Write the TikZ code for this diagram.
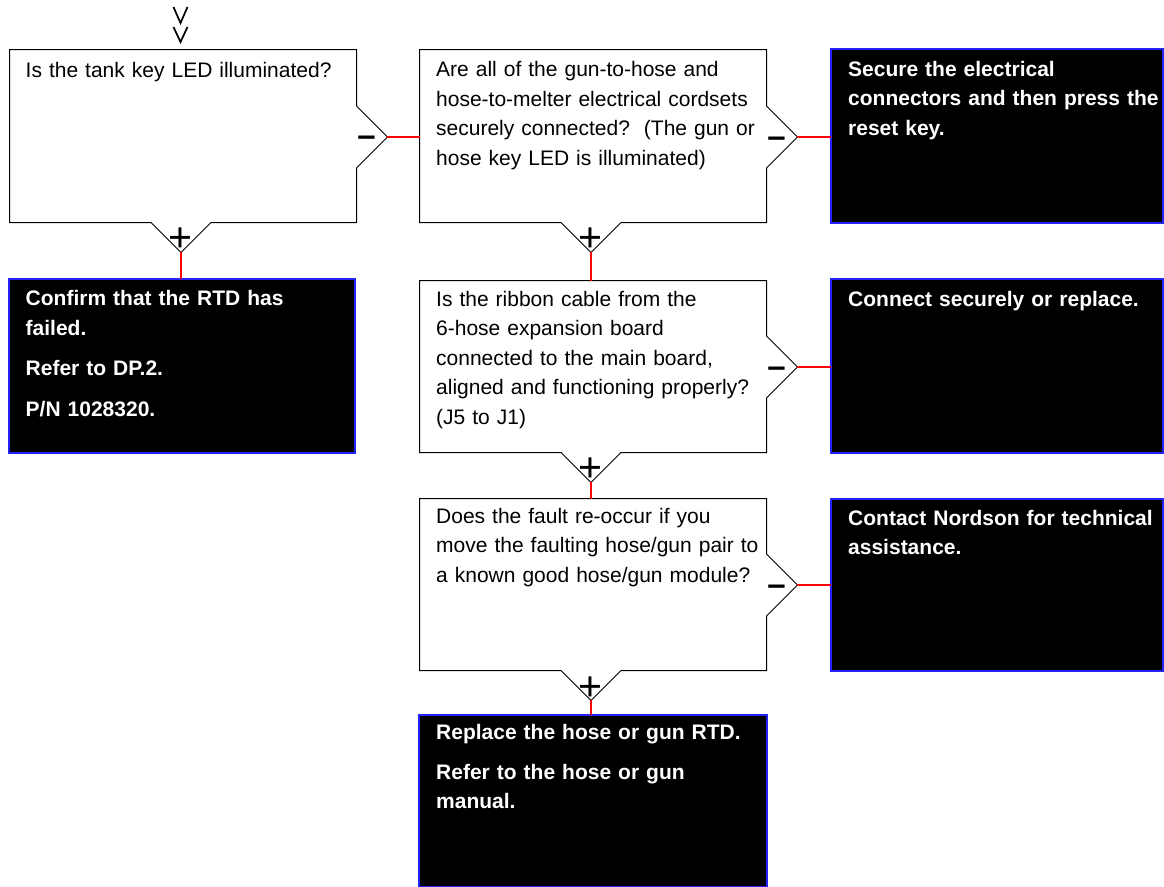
\documentclass[tikz,border=0pt]{standalone}
\usepackage{fontspec}
\setmainfont{Liberation Sans}
\definecolor{boxblue}{RGB}{35,35,255}
\definecolor{linkred}{RGB}{255,0,0}
\newcommand\qshape[6]{\path[qline] (#1,#2) -- (#3,#2) -- (#3,#5-31) -- (#3+31,#5) -- (#3,#5+31) -- (#3,#4) -- (#6+30,#4) -- (#6,#4+30) -- (#6-30,#4) -- (#1,#4) -- cycle;}
\tikzset{
  qtext/.style={anchor=base west, inner sep=0pt, text width=340pt, align=left, font=\fontsize{21}{29.6}\selectfont, text=black},
  atext/.style={anchor=base west, inner sep=0pt, text width=340pt, align=left, font=\fontsize{21}{29.6}\selectfont\bfseries, text=white},
  abox/.style={draw=boxblue, fill=black, line width=1.2pt, inner sep=0pt, outer sep=0pt, anchor=north west},
  frame/.style={inner sep=0pt, outer sep=0pt, anchor=north west},
  qline/.style={draw=black, fill=white, line width=1pt, line join=miter},
  link/.style={draw=linkred, line width=1.4pt},
  plusmark/.style={anchor=base, inner sep=0pt, font=\fontsize{41}{41}\selectfont},
  minusmark/.style={anchor=base, inner sep=0pt, font=\fontsize{33}{33}\selectfont\bfseries},
  chevron/.style={draw=black, line width=1.7pt}
}
\begin{document}
\begin{tikzpicture}[x=1pt,y=-1pt]
\useasboundingbox[fill=white] (0,0) rectangle (1164,886);

% entry chevrons
\draw[chevron] (173.5,7) -- (180.5,23) -- (187.5,7);
\draw[chevron] (173.5,27) -- (180.5,42) -- (187.5,27);

% question shapes
\qshape{9.5}{49.5}{356.5}{222.5}{137}{181}
\qshape{419.5}{49.5}{766.5}{222.5}{137}{591}
\qshape{419.5}{280.5}{766.5}{452.5}{367}{591}
\qshape{419.5}{498.5}{766.5}{670.5}{585}{591}

% frames of the question boxes
\node[frame, minimum width=347pt, minimum height=173pt] (b1) at (9.5,49.5) {};
\node[frame, minimum width=347pt, minimum height=173pt] (b2) at (419.5,49.5) {};
\node[frame, minimum width=347pt, minimum height=172pt] (b3) at (419.5,280.5) {};
\node[frame, minimum width=347pt, minimum height=172pt] (b4) at (419.5,498.5) {};

% notch tips
\coordinate (b1m) at (387,137);
\coordinate (b1p) at (181,252);
\coordinate (b2m) at (797,137);
\coordinate (b2p) at (591,252);
\coordinate (b3m) at (797,367);
\coordinate (b3p) at (591,482);
\coordinate (b4m) at (797,585);
\coordinate (b4p) at (591,700);

% answer boxes
\node[abox, minimum width=332pt, minimum height=174pt] (k1) at (831,49) {};
\node[abox, minimum width=346pt, minimum height=174pt] (k2) at (9,279) {};
\node[abox, minimum width=332pt, minimum height=174pt] (k3) at (831,279) {};
\node[abox, minimum width=332pt, minimum height=172pt] (k4) at (831,499) {};
\node[abox, minimum width=348pt, minimum height=172pt] (k5) at (419,715) {};

% question texts
\node[qtext] (t1) at (25.5,77) {Is the tank key LED illuminated?};
\node[qtext] (t2) at (436,76.7) {Are all of the gun-to-hose and\\hose-to-melter electrical cordsets\\securely connected?\ \ (The gun or\\hose key LED is illuminated)};
\node[qtext] (t3) at (436,306) {Is the ribbon cable from the\\6-hose expansion board\\connected to the main board,\\aligned and functioning properly?\\(J5 to J1)};
\node[qtext] (t4) at (436,523.3) {Does the fault re-occur if you\\move the faulting hose/gun pair to\\a known good hose/gun module?};

% answer texts
\node[atext] (a1) at (848,76) {Secure the electrical\\connectors and then press the\\reset key.};
\node[atext] (a2) at (25.5,305.7) {Confirm that the RTD has\\failed.\\[10.8pt]Refer to DP.2.\\[10.8pt]P/N 1028320.};
\node[atext] (a3) at (848,306) {Connect securely or replace.};
\node[atext] (a4) at (848,525) {Contact Nordson for technical\\assistance.};
\node[atext] (a5) at (436,739.3) {Replace the hose or gun RTD.\\[10.4pt]Refer to the hose or gun\\manual.};

% signs
\node[minusmark] (m1) at (366.5,146.5) {–};
\node[minusmark] (m2) at (776.5,147) {–};
\node[minusmark] (m3) at (776.5,377) {–};
\node[minusmark] (m4) at (776.5,595) {–};
\node[plusmark] (p1) at (180,251.5) {+};
\node[plusmark] (p2) at (590,251.5) {+};
\node[plusmark] (p3) at (590,481.5) {+};
\node[plusmark] (p4) at (590,700) {+};

% connectors
\draw[link] (b1m) -- (b1m -| b2.west);
\draw[link] (b1p) -- (b1p |- k2.north);
\draw[link] (b2m) -- (b2m -| k1.west);
\draw[link] (b2p) -- (b2p |- b3.north);
\draw[link] (b3m) -- (b3m -| k3.west);
\draw[link] (b3p) -- (b3p |- b4.north);
\draw[link] (b4m) -- (b4m -| k4.west);
\draw[link] (b4p) -- (b4p |- k5.north);
\end{tikzpicture}
\end{document}
